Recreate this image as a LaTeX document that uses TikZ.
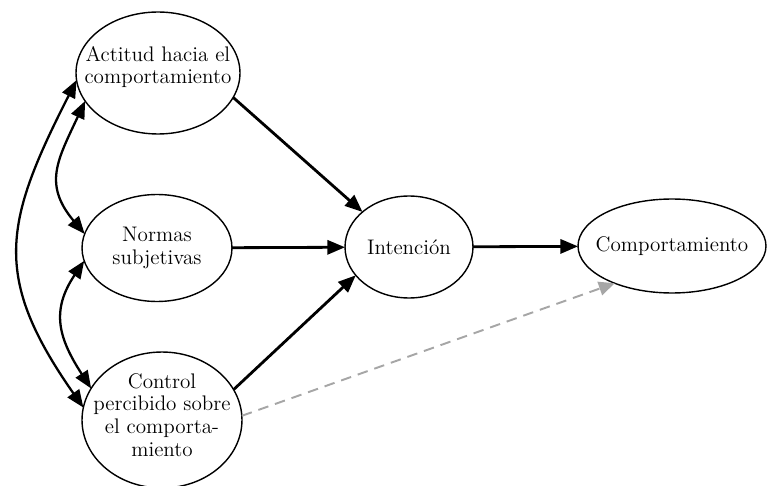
\documentclass[tikz,border=0pt]{standalone}
\usepackage{tikz}
\usetikzlibrary{arrows.meta,shapes.geometric}
\tikzstyle{oval}=[ellipse, draw, line width=0.8pt, inner sep=0pt, outer sep=0pt]
\tikzstyle{txt}=[align=center, font=\fontsize{12}{13}\selectfont, inner sep=0pt]
\tikzstyle{edge}=[line width=1.6pt, -{Triangle[length=10pt,width=8pt]}]
\tikzstyle{edgeB}=[line width=1.3pt, {Triangle[length=10pt,width=8pt]}-{Triangle[length=10pt,width=8pt]}]
\tikzstyle{edgeD}=[line width=1.1pt, dash pattern=on 6pt off 4pt, gray!70, -{Triangle[length=9pt,width=8pt]}]

\begin{document}
\begin{tikzpicture}[x=0.02cm, y=0.02cm]
      \useasboundingbox (0,0) rectangle (767,-486);
      \node(act) [oval, minimum width=3.28cm, minimum height=2.44cm, label={[txt, yshift=0.12cm]center:Actitud hacia el\\comportamiento}] at (158,-73){};
      \node(nor) [oval, minimum width=3.0cm, minimum height=2.14cm, label={[txt]center:Normas\\subjetivas}] at (157,-248){};
      \node(ctl) [oval, minimum width=3.2cm, minimum height=2.72cm, label={[txt, yshift=0.1cm]center:Control\\percibido sobre\\el comporta-\\miento}] at (162,-420){};
      \node(int) [oval, minimum width=2.56cm, minimum height=2.04cm, label={[txt]center:Intención}] at (409,-247){};
      \node(com) [oval, minimum width=3.76cm, minimum height=1.88cm, label={[txt]center:Comportamiento}] at (672,-246){};
      \draw[edge] (act.342) to (int.143);
      \draw[edge] (nor) to (int);
      \draw[edge] (ctl.23) to (int.208);
      \draw[edge] (int) to (com);
      \draw[edgeD] (ctl.3) to (com.213);
      % correlaciones
      \draw[edgeB] (act.185) .. controls +(243:160) and +(125:160) .. (ctl.171);
      \draw[edgeB] (act.201) .. controls +(245:65) and +(130:65) .. (nor.169);
      \draw[edgeB] (nor.190) .. controls +(236:60) and +(123:60) .. (ctl.156);
    \end{tikzpicture}
\end{document}
